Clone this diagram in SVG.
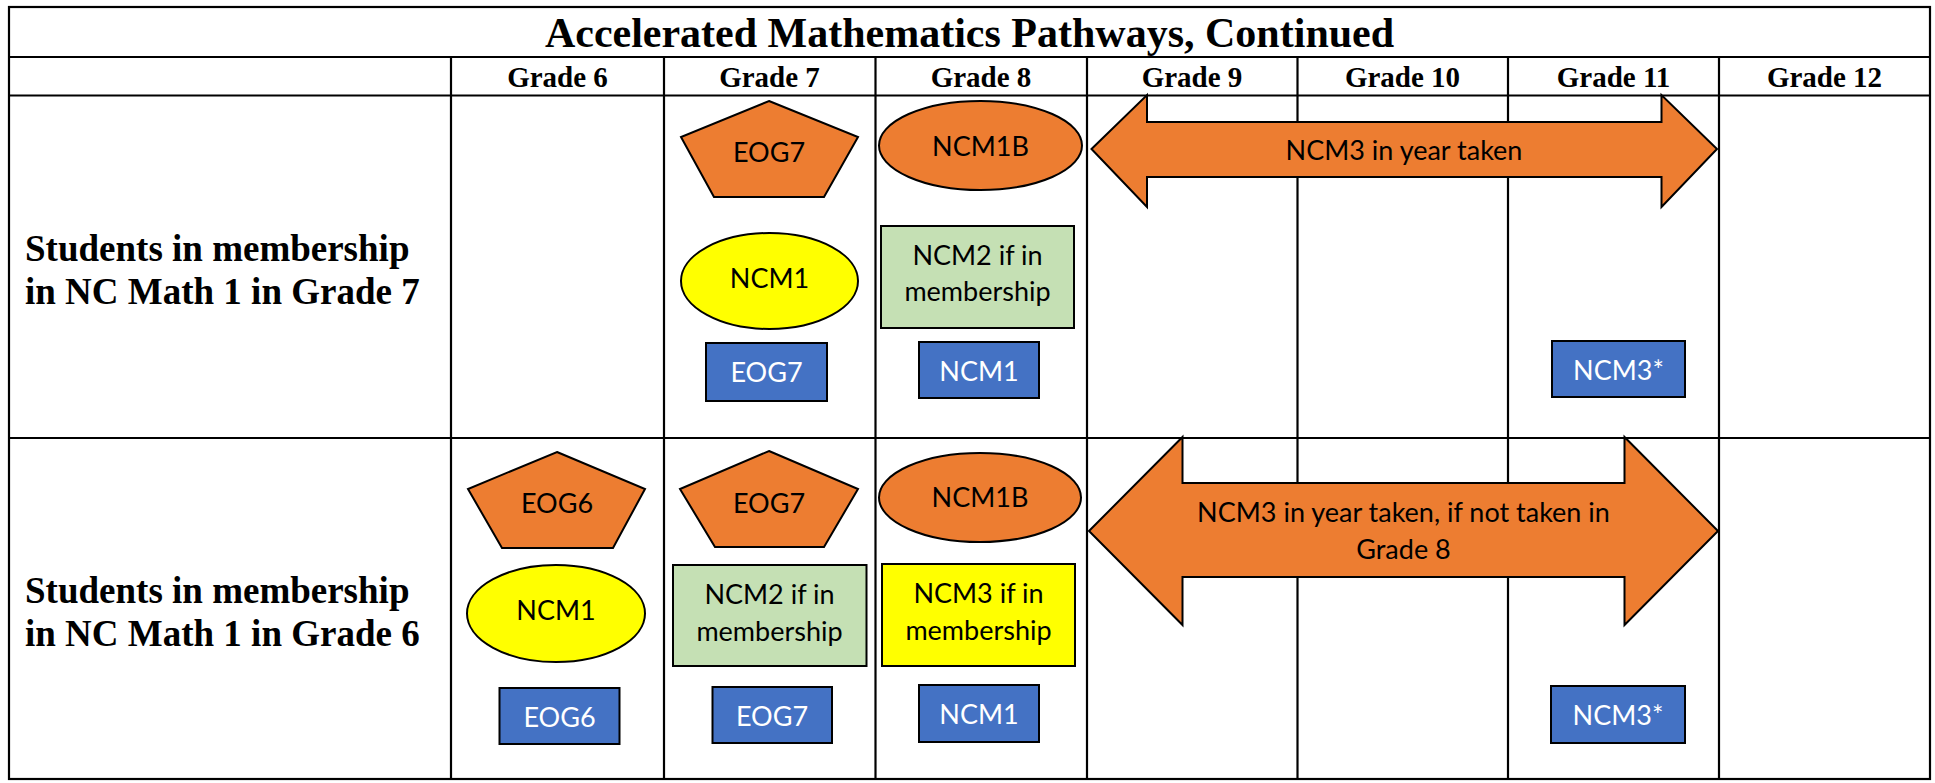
<svg xmlns="http://www.w3.org/2000/svg" width="1935" height="783" viewBox="0 0 1935 783">
<style>
.grid{stroke:#000;stroke-width:2.2;fill:none}
.title{font-family:"Liberation Serif","Times New Roman",serif;font-weight:bold;font-size:42px;fill:#000;text-anchor:middle}
.hdr{font-family:"Liberation Serif","Times New Roman",serif;font-weight:bold;font-size:29px;fill:#000;text-anchor:middle}
.lbl{font-family:"Liberation Serif","Times New Roman",serif;font-weight:bold;font-size:37px;fill:#000}
.t{font-family:Lato,"Open Sans",sans-serif;font-size:27px;fill:#000;text-anchor:middle}
.tw{font-family:Lato,"Open Sans",sans-serif;font-size:27px;fill:#fff;text-anchor:middle}
.orange{fill:#ED7D31;stroke:#000;stroke-width:2}
.yellow{fill:#FFFF00;stroke:#000;stroke-width:2}
.green{fill:#C5E0B4;stroke:#000;stroke-width:2}
.blue{fill:#4472C4;stroke:#000;stroke-width:2}
</style>
<rect width="1935" height="783" fill="#fff"/>
<g id="table">
<rect class="grid" x="9" y="7" width="1921" height="772"/>
<line class="grid" x1="9" y1="57" x2="1930" y2="57"/>
<line class="grid" x1="9" y1="95.5" x2="1930" y2="95.5"/>
<line class="grid" x1="9" y1="438" x2="1930" y2="438"/>
<line class="grid" x1="451" y1="57" x2="451" y2="779"/>
<line class="grid" x1="664" y1="57" x2="664" y2="779"/>
<line class="grid" x1="875.5" y1="57" x2="875.5" y2="779"/>
<line class="grid" x1="1087" y1="57" x2="1087" y2="779"/>
<line class="grid" x1="1297.5" y1="57" x2="1297.5" y2="779"/>
<line class="grid" x1="1508" y1="57" x2="1508" y2="779"/>
<line class="grid" x1="1719" y1="57" x2="1719" y2="779"/>
<text class="title" x="969.5" y="47">Accelerated Mathematics Pathways, Continued</text>
<text class="hdr" x="557.5" y="87">Grade 6</text>
<text class="hdr" x="769.5" y="87">Grade 7</text>
<text class="hdr" x="981" y="87">Grade 8</text>
<text class="hdr" x="1192" y="87">Grade 9</text>
<text class="hdr" x="1402.5" y="87">Grade 10</text>
<text class="hdr" x="1613.5" y="87">Grade 11</text>
<text class="hdr" x="1824.5" y="87">Grade 12</text>
<text class="lbl" x="25" y="261">Students in membership</text>
<text class="lbl" x="25" y="304">in NC Math 1 in Grade 7</text>
<text class="lbl" x="25" y="603">Students in membership</text>
<text class="lbl" x="25" y="646">in NC Math 1 in Grade 6</text>
</g>
<g id="connectors"></g>
<!-- Row 1: Grade 7 membership -->
<g id="r1-eog7-pent"><polygon class="orange" points="769,101 858,137 824,197 714,197 681,137"/><text class="t" x="769" y="162">EOG7</text></g>
<g id="r1-ncm1-ell"><ellipse class="yellow" cx="769.5" cy="281" rx="88.5" ry="48"/><text class="t" x="769.5" y="288">NCM1</text></g>
<g id="r1-eog7-box"><rect class="blue" x="706" y="343" width="121" height="58"/><text class="tw" x="766.5" y="382">EOG7</text></g>
<g id="r1-ncm1b-ell"><ellipse class="orange" cx="980.5" cy="145.5" rx="101.5" ry="44.5"/><text class="t" x="980.5" y="156">NCM1B</text></g>
<g id="r1-ncm2-box"><rect class="green" x="881" y="226" width="193" height="102"/><text class="t" x="977.5" y="265">NCM2 if in</text><text class="t" x="977.5" y="301">membership</text></g>
<g id="r1-ncm1-box"><rect class="blue" x="919" y="342" width="120" height="56"/><text class="tw" x="979" y="381">NCM1</text></g>
<g id="r1-arrow"><path class="orange" d="M1091.5,149 L1147,95 L1147,122 L1661.5,122 L1661.5,95 L1717,149 L1661.5,207 L1661.5,177 L1147,177 L1147,207 Z"/><text class="t" x="1404" y="160">NCM3 in year taken</text></g>
<g id="r1-ncm3-box"><rect class="blue" x="1552" y="341" width="133" height="56"/><text class="tw" x="1618.5" y="380">NCM3*</text></g>
<!-- Row 2: Grade 6 membership -->
<g id="r2-eog6-pent"><polygon class="orange" points="557,452 645,489 613,548 502,548 468,489"/><text class="t" x="557" y="513">EOG6</text></g>
<g id="r2-ncm1-ell"><ellipse class="yellow" cx="556" cy="613.5" rx="89" ry="48.5"/><text class="t" x="556" y="620">NCM1</text></g>
<g id="r2-eog6-box"><rect class="blue" x="499.5" y="688" width="120" height="56"/><text class="tw" x="559.5" y="727">EOG6</text></g>
<g id="r2-eog7-pent"><polygon class="orange" points="769,451 858,489 824,547 715,547 680,489"/><text class="t" x="769" y="513">EOG7</text></g>
<g id="r2-ncm2-box"><rect class="green" x="673" y="565" width="193.5" height="101"/><text class="t" x="769.5" y="604">NCM2 if in</text><text class="t" x="769.5" y="641">membership</text></g>
<g id="r2-eog7-box"><rect class="blue" x="712.5" y="687" width="119.5" height="56"/><text class="tw" x="772" y="726">EOG7</text></g>
<g id="r2-ncm1b-ell"><ellipse class="orange" cx="980" cy="497.5" rx="101" ry="44.5"/><text class="t" x="980" y="507">NCM1B</text></g>
<g id="r2-ncm3-box"><rect class="yellow" x="882" y="564" width="193" height="102"/><text class="t" x="978.5" y="603">NCM3 if in</text><text class="t" x="978.5" y="640">membership</text></g>
<g id="r2-ncm1-box"><rect class="blue" x="919" y="685" width="120" height="57"/><text class="tw" x="979" y="724">NCM1</text></g>
<g id="r2-arrow"><path class="orange" d="M1089,531 L1182.5,437 L1182.5,483 L1624.5,483 L1624.5,437 L1718,531 L1624.5,625 L1624.5,577 L1182.5,577 L1182.5,625 Z"/><text class="t" x="1403.5" y="522">NCM3 in year taken, if not taken in</text><text class="t" x="1403.5" y="559">Grade 8</text></g>
<g id="r2-ncm3-box"><rect class="blue" x="1551" y="686" width="134" height="57"/><text class="tw" x="1618" y="725">NCM3*</text></g>
</svg>
